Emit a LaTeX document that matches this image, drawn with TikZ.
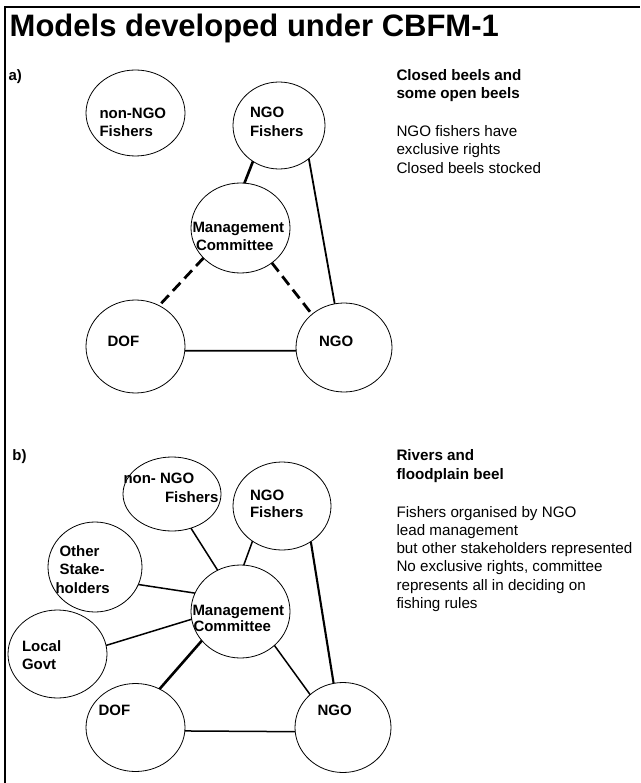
\documentclass[tikz,border=0pt]{standalone}
\usepackage{fontspec}
\setmainfont{Liberation Sans}
\usetikzlibrary{shapes.geometric}
\begin{document}
\begin{tikzpicture}[x=1pt,y=-1pt,
  circ/.style={draw, ellipse, line width=0.8pt, inner sep=0pt, outer sep=0pt},
  lbl/.style={anchor=base west, inner sep=0pt, outer sep=0pt, font=\bfseries\fontsize{15}{18}\selectfont},
  txt/.style={anchor=base west, inner sep=0pt, outer sep=0pt, font=\fontsize{15.2}{18}\selectfont},
  conn/.style={line width=1.5pt},
  midconn/.style={line width=1.8pt},
  thickconn/.style={line width=2.6pt},
  dashconn/.style={line width=2.8pt, dash pattern=on 11pt off 6pt}]
\useasboundingbox (0,0) rectangle (640,783);
\fill[white] (0,0) rectangle (640,783);
% frame
\draw[line width=2pt] (5,783) -- (5,7) -- (640,7);
% title
\node[anchor=base west, inner sep=0pt, font=\bfseries\fontsize{31}{36}\selectfont] (title) at (9.5,36.7) {Models developed under CBFM-1};

% ---------------- panel a ----------------
\node[lbl] (alab) at (8.6,81) {a)};
\node[circ, minimum width=99pt, minimum height=86pt] (aN) at (135.5,113) {};
\node[circ, minimum width=92pt, minimum height=87pt] (aF) at (279,125.5) {};
\node[circ, minimum width=99pt, minimum height=90pt] (aM) at (240.5,228) {};
\node[circ, minimum width=99pt, minimum height=93pt] (aD) at (135.5,346.5) {};
\node[circ, minimum width=96pt, minimum height=89pt] (aG) at (344,347.5) {};

\node[lbl] (aN1) at (99.5,118.3) {non-NGO};
\node[lbl] (aN2) at (99.5,136.7) {Fishers};
\node[lbl] (aF1) at (250,117.3) {NGO};
\node[lbl] (aF2) at (250,136.7) {Fishers};
\node[lbl] (aM1) at (192.5,232.4) {Management};
\node[lbl] (aM2) at (196,250.7) {Committee};
\node[lbl] (aD1) at (107.5,346.7) {DOF};
\node[lbl] (aG1) at (319,346.7) {NGO};

\draw[thickconn] (aF.-126.5) -- (aM.85.7);
\draw[midconn] (aF.-48.8) -- (aG.102.7);
\draw[dashconn] (aM.-141.7) -- (aD.60.2);
\draw[dashconn] (aM.-48.7) -- (aG.134.6);
\draw[midconn] (aD.-5.2) -- (aG.184.2);

\node[lbl, font=\bfseries\fontsize{15.2}{18}\selectfont] (aT1) at (396.5,80.7) {Closed beels and};
\node[lbl, font=\bfseries\fontsize{15.2}{18}\selectfont] (aT2) at (396.5,99) {some open beels};
\node[txt] (aT3) at (396.5,136.7) {NGO fishers have};
\node[txt] (aT4) at (396.5,155) {exclusive rights};
\node[txt] (aT5) at (396.5,173.5) {Closed beels stocked};

% ---------------- panel b ----------------
\node[lbl] (blab) at (12.5,460) {b)};
\node[circ, minimum width=98pt, minimum height=74pt] (bN) at (172,494) {};
\node[circ, minimum width=98pt, minimum height=88pt] (bF) at (282,506) {};
\node[circ, minimum width=94pt, minimum height=90pt] (bO) at (95,567) {};
\node[circ, minimum width=99pt, minimum height=88pt] (bL) at (57.5,654) {};
\node[circ, minimum width=99pt, minimum height=93pt] (bM) at (240.5,611.5) {};
\node[circ, minimum width=99pt, minimum height=88pt] (bD) at (135.5,727.5) {};
\node[circ, minimum width=96pt, minimum height=90pt] (bG) at (343,727.5) {};

\node[lbl] (bN1) at (123.5,483) {non- NGO};
\node[lbl] (bN2) at (165,502) {Fishers};
\node[lbl] (bF1) at (250,500) {NGO};
\node[lbl] (bF2) at (250,517.3) {Fishers};
\node[lbl] (bO1) at (59.5,556) {Other};
\node[lbl] (bO2) at (59.5,574) {Stake-};
\node[lbl] (bO3) at (55.5,593) {holders};
\node[lbl] (bL1) at (22,651.7) {Local};
\node[lbl] (bL2) at (22,669.3) {Govt};
\node[lbl] (bM1) at (192.5,615) {Management};
\node[lbl] (bM2) at (193.5,631) {Committee};
\node[lbl] (bD1) at (98.5,715) {DOF};
\node[lbl] (bG1) at (317.5,715) {NGO};

\draw[conn] (bN.-61.3) -- (bM.119.2);
\draw[conn] (bF.-130.3) -- (bM.86);
\draw[midconn, line width=2.1pt] (bF.-51.5) -- (bG.102.9);
\draw[conn] (bO.-22.9) -- (bM.158.2);
\draw[conn] (bL.10.2) -- (bM.189.2);
\draw[thickconn] (bM.-143.7) -- (bD.58.7);
\draw[conn] (bM.-45.6) -- (bG.135.4);
\draw[conn] (bD.-4.8) -- (bG.185);

\node[lbl, font=\bfseries\fontsize{15.2}{18}\selectfont] (bT1) at (396.5,460) {Rivers and};
\node[lbl, font=\bfseries\fontsize{15.2}{18}\selectfont] (bT2) at (396.5,479.3) {floodplain beel};
\node[txt] (bT3) at (396.5,517.7) {Fishers organised by NGO};
\node[txt] (bT4) at (396.5,535.5) {lead management};
\node[txt] (bT5) at (396.5,553.5) {but other stakeholders represented};
\node[txt] (bT6) at (396.5,571.7) {No exclusive rights, committee};
\node[txt] (bT7) at (396.5,590) {represents all in deciding on};
\node[txt] (bT8) at (396.5,608.3) {fishing rules};
\end{tikzpicture}
\end{document}
